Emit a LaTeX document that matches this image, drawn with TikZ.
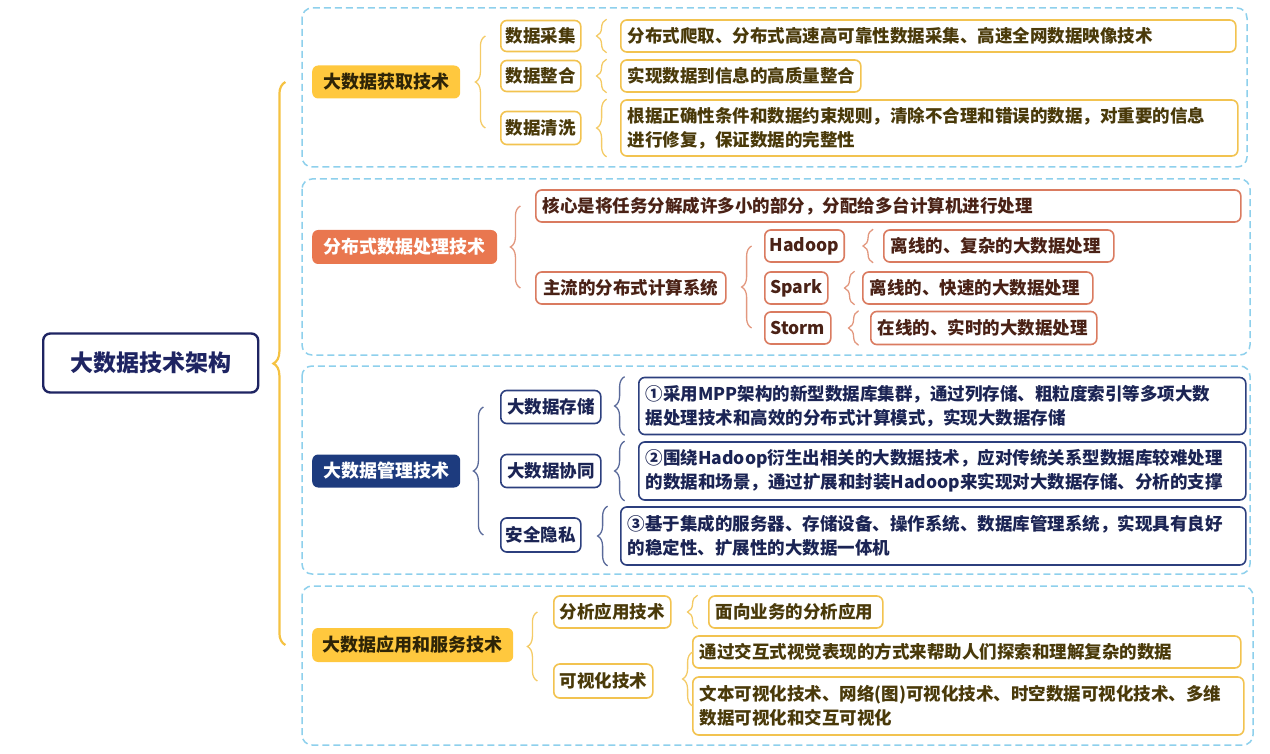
\documentclass[tikz,border=0pt]{standalone}
\usepackage{fontspec}
\setmainfont{Noto Sans CJK SC}
\usetikzlibrary{decorations.pathreplacing}

\definecolor{framec}{HTML}{8ED0EC}
\definecolor{ylfill}{HTML}{FFC83E}
\definecolor{ylline}{HTML}{F2C350}
\definecolor{yltext}{HTML}{4A3A0A}
\definecolor{ylhead}{HTML}{2E2407}
\definecolor{ylbrace}{HTML}{F4CB66}
\definecolor{mainbr}{HTML}{F5C242}
\definecolor{orfill}{HTML}{E9774F}
\definecolor{orline}{HTML}{DA7B60}
\definecolor{ortext}{HTML}{4A2216}
\definecolor{orbrace}{HTML}{E2987F}
\definecolor{nvfill}{HTML}{1D3B7E}
\definecolor{nvline}{HTML}{2C3F7E}
\definecolor{nvtext}{HTML}{1B2454}
\definecolor{nvbrace}{HTML}{5A6A9A}
\definecolor{rootc}{HTML}{1E2462}

\newcommand\lblfont[1]{\bfseries\fontsize{#1}{24}\selectfont}

\begin{document}
\begin{tikzpicture}[x=1pt,y=-1pt,
  every node/.style={anchor=west, inner ysep=0pt},
  frame/.style={draw=framec, line width=1.5pt, dash pattern=on 7pt off 4pt, rounded corners=10pt},
  rootbox/.style={draw=rootc, line width=2.4pt, rounded corners=7pt, fill=white, text=rootc, font=\lblfont{23}, align=center},
  head/.style={rounded corners=6pt, inner xsep=5pt, font=\lblfont{18}, align=center},
  lab/.style={rounded corners=6pt, line width=1.6pt, fill=white, inner xsep=5pt, font=\lblfont{17.5}, align=center},
  det/.style={rounded corners=6pt, line width=1.6pt, fill=white, inner xsep=7pt, font=\lblfont{17.5}, align=left},
  yl/.style={draw=ylline, text=yltext},
  orc/.style={draw=orline, text=ortext},
  nv/.style={draw=nvline, text=nvtext},
  brc/.style={draw=#1, line width=1.3pt, decorate, decoration={brace, amplitude=10pt}},
  mbrc/.style={draw=mainbr, line width=2.2pt, decorate, decoration={brace, amplitude=12pt}}
]
\useasboundingbox (0,0) rectangle (1270,754);

% dashed section frames
\draw[frame] (302,8) rectangle (1247,167);
\draw[frame] (302,179) rectangle (1250,355);
\draw[frame] (302,366) rectangle (1250,574);
\draw[frame] (302,586) rectangle (1253,745);

% root
\node[rootbox, minimum width=215, minimum height=59] (root) at (42,363) {大数据技术架构};

% section 1: acquisition
\node[head, fill=ylfill, text=ylhead, minimum width=148, minimum height=33] (L1) at (312,82) {大数据获取技术};
\node[lab, yl, minimum width=80, minimum height=31] (a1) at (500,36) {数据采集};
\node[lab, yl, minimum width=80, minimum height=31] (a2) at (500,76) {数据整合};
\node[lab, yl, minimum width=80, minimum height=33] (a3) at (500,128) {数据清洗};
\node[det, yl, text width=601, minimum height=32] (d1) at (620,36) {分布式爬取、分布式高速高可靠性数据采集、高速全网数据映像技术};
\node[det, yl, text width=226, minimum height=32] (d2) at (620,76) {实现数据到信息的高质量整合};
\node[det, yl, text width=603, minimum height=56] (d3) at (620,128) {根据正确性条件和数据约束规则，清除不合理和错误的数据，对重要的信息\\进行修复，保证数据的完整性};

% section 2: distributed processing
\node[head, fill=orfill, text=white, minimum width=185, minimum height=34] (L2) at (312,247) {分布式数据处理技术};
\node[det, orc, text width=691, minimum height=32] (b1) at (535,206) {核心是将任务分解成许多小的部分，分配给多台计算机进行处理};
\node[lab, orc, minimum width=190, minimum height=32] (b2) at (535,288) {主流的分布式计算系统};
\node[lab, orc, minimum width=79, minimum height=32] (h) at (764,246) {Hadoop};
\node[lab, orc, minimum width=63, minimum height=32] (s) at (764,288) {Spark};
\node[lab, orc, minimum width=66, minimum height=32] (st) at (764,328) {Storm};
\node[det, orc, text width=216, minimum height=32] (hd) at (883,246) {离线的、复杂的大数据处理};
\node[det, orc, text width=216, minimum height=32] (sd) at (862,288) {离线的、快速的大数据处理};
\node[det, orc, text width=212, minimum height=33] (std) at (870,328) {在线的、实时的大数据处理};

% section 3: management
\node[head, fill=nvfill, text=white, minimum width=148, minimum height=33] (L3) at (312,471) {大数据管理技术};
\node[lab, nv, minimum width=100, minimum height=33] (c1) at (500,407) {大数据存储};
\node[lab, nv, minimum width=100, minimum height=33] (c2) at (500,471) {大数据协同};
\node[lab, nv, minimum width=80, minimum height=34] (c3) at (500,535) {安全隐私};
\node[det, nv, text width=593, minimum height=57] (cd1) at (638,406) {①采用MPP架构的新型数据库集群，通过列存储、粗粒度索引等多项大数\\据处理技术和高效的分布式计算模式，实现大数据存储};
\node[det, nv, text width=593, minimum height=58] (cd2) at (638,471) {②围绕Hadoop衍生出相关的大数据技术，应对传统关系型数据库较难处理\\的数据和场景，通过扩展和封装Hadoop来实现对大数据存储、分析的支撑};
\node[det, nv, text width=611, minimum height=58] (cd3) at (620,536) {③基于集成的服务器、存储设备、操作系统、数据库管理系统，实现具有良好\\的稳定性、扩展性的大数据一体机};

% section 4: application and services
\node[head, fill=ylfill, text=ylhead, minimum width=201, minimum height=34] (L4) at (312,645) {大数据应用和服务技术};
\node[lab, yl, minimum width=117, minimum height=32] (e1) at (553,612) {分析应用技术};
\node[lab, yl, minimum width=99, minimum height=34] (e2) at (553,681) {可视化技术};
\node[det, yl, text width=160, minimum height=32] (ed1) at (708,612) {面向业务的分析应用};
\node[det, yl, text width=534, minimum height=32] (ed2) at (692,652) {通过交互式视觉表现的方式来帮助人们探索和理解复杂的数据};
\node[det, yl, text width=537, minimum height=58] (ed3) at (692,706) {文本可视化技术、网络(图)可视化技术、时空数据可视化技术、多维\\数据可视化和交互可视化};

% braces
\draw[mbrc] ([xshift=26pt]root.east |- L4.west) -- ([xshift=26pt]root.east |- L1.west);

\draw[brc=ylbrace] ([xshift=25pt]L1.east |- a3.west) -- ([xshift=25pt]L1.east |- a1.west);
\draw[brc=ylbrace] ([xshift=25pt]a1.east |- d1.south) -- ([xshift=25pt]a1.east |- d1.north);
\draw[brc=ylbrace] ([xshift=25pt]a2.east |- d2.south) -- ([xshift=25pt]a2.east |- d2.north);
\draw[brc=ylbrace] ([xshift=25pt]a3.east |- d3.south) -- ([xshift=25pt]a3.east |- d3.north);

\draw[brc=orbrace] ([xshift=23pt]L2.east |- b2.west) -- ([xshift=23pt]L2.east |- b1.west);
\draw[brc=orbrace] ([xshift=25pt]b2.east |- st.west) -- ([xshift=25pt]b2.east |- h.west);
\draw[brc=orbrace] ([xshift=28pt]h.east |- hd.south) -- ([xshift=28pt]h.east |- hd.north);
\draw[brc=orbrace] ([xshift=26pt]s.east |- sd.south) -- ([xshift=26pt]s.east |- sd.north);
\draw[brc=orbrace] ([xshift=27pt]st.east |- std.south) -- ([xshift=27pt]st.east |- std.north);

\draw[brc=nvbrace] ([xshift=23pt]L3.east |- c3.west) -- ([xshift=23pt]L3.east |- c1.west);
\draw[brc=nvbrace] ([xshift=23pt]c1.east |- cd1.south) -- ([xshift=23pt]c1.east |- cd1.north);
\draw[brc=nvbrace] ([xshift=23pt]c2.east |- cd2.south) -- ([xshift=23pt]c2.east |- cd2.north);
\draw[brc=nvbrace] ([xshift=26pt]c3.east |- cd3.south) -- ([xshift=26pt]c3.east |- cd3.north);

\draw[brc=ylbrace] ([xshift=24pt]L4.east |- e2.west) -- ([xshift=24pt]L4.east |- e1.west);
\draw[brc=ylbrace] ([xshift=26pt]e1.east |- ed1.south) -- ([xshift=26pt]e1.east |- ed1.north);
\draw[brc=ylbrace] ([xshift=39pt]e2.east |- ed3.west) -- ([xshift=39pt]e2.east |- ed2.west);
\end{tikzpicture}
\end{document}
